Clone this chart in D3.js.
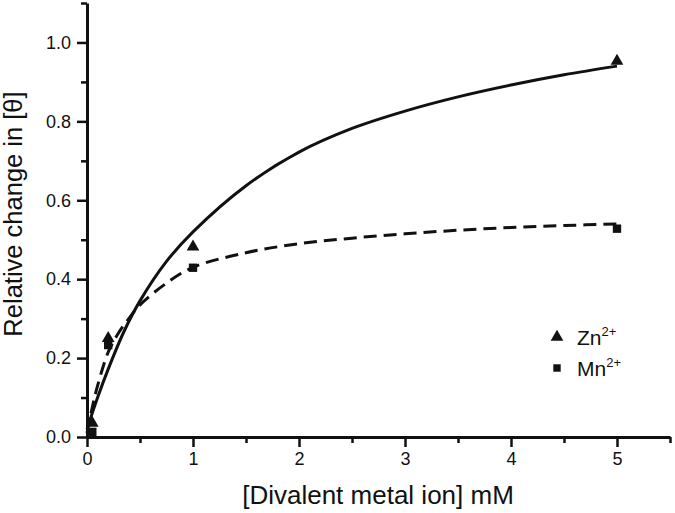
<!DOCTYPE html>
<html><head><meta charset="utf-8">
<script src="https://cdn.jsdelivr.net/npm/d3@7"></script>
<style>body{margin:0;background:#fff}svg{display:block}text{font-family:"Liberation Sans",Arial,sans-serif;fill:#111}</style>
</head><body><svg id="c" width="675" height="513"></svg>
<script>
// Measured data points
const znX = [0.05, 0.2, 1, 5];
const znY = [0.035, 0.25, 0.482, 0.953];
const mnX = [0.05, 0.2, 1, 5];
const mnY = [0.013, 0.233, 0.429, 0.528];
// Fitted curves
const fitZnX = [0, 0.1, 0.2, 0.35, 0.5, 0.75, 1, 1.5, 2, 2.5, 3, 3.5, 4, 4.5, 5];
const fitZnY = [0.02, 0.1, 0.172, 0.268, 0.345, 0.445, 0.52, 0.637, 0.722, 0.782, 0.826, 0.862, 0.892, 0.918, 0.94];
const fitMnX = [0, 0.05, 0.1, 0.2, 0.3, 0.4, 0.5, 0.75, 1, 1.5, 2, 2.5, 3, 3.5, 4, 4.5, 5];
const fitMnY = [0.01, 0.075, 0.13, 0.215, 0.265, 0.302, 0.335, 0.39, 0.43, 0.467, 0.49, 0.504, 0.515, 0.524, 0.531, 0.536, 0.54];
const xTicks = [0, 1, 2, 3, 4, 5];
const yTicks = [0.0, 0.2, 0.4, 0.6, 0.8, 1.0];
const legendLabels = ["Zn", "Mn"];

const svg = d3.select("#c");
const x = d3.scaleLinear().domain([0, 5.5]).range([87, 670]);
const y = d3.scaleLinear().domain([0, 1.1]).range([437, 3]);

function styleAxis(g){
  g.select(".domain").attr("stroke","#111").attr("stroke-width",3);
  g.selectAll(".tick line").attr("stroke","#111").attr("stroke-width",2.5);
  g.selectAll(".tick text").attr("font-size",18).attr("fill","#111").attr("font-family","Liberation Sans, Arial, sans-serif");
}
// minor ticks
const gxm = svg.append("g").attr("transform","translate(0,437)")
  .call(d3.axisBottom(x).tickValues(d3.range(0.5,5.6,1)).tickSize(6).tickFormat(""));
styleAxis(gxm); gxm.select(".domain").remove();
const gym = svg.append("g").attr("transform","translate(87,0)")
  .call(d3.axisLeft(y).tickValues(d3.range(0.1,1.11,0.2)).tickSize(6).tickFormat(""));
styleAxis(gym); gym.select(".domain").remove();

const gx = svg.append("g").attr("transform","translate(0,437)")
  .call(d3.axisBottom(x).tickValues(xTicks).tickSize(10).tickSizeOuter(0).tickPadding(5).tickFormat(d3.format("d")));
styleAxis(gx);
const gy = svg.append("g").attr("transform","translate(87,0)")
  .call(d3.axisLeft(y).tickValues(yTicks).tickSize(10).tickSizeOuter(0).tickPadding(6).tickFormat(d3.format(".1f")));
styleAxis(gy);

// axis labels
svg.append("text").attr("x",378).attr("y",504).attr("text-anchor","middle").attr("font-size",26)
  .text("[Divalent metal ion] mM");
svg.append("text").attr("transform","translate(22,214) rotate(-90)").attr("text-anchor","middle").attr("font-size",25.5)
  .text("Relative change in [θ]");

const line = d3.line().x(d=>x(d[0])).y(d=>y(d[1])).curve(d3.curveCatmullRom.alpha(0.5));
svg.append("path").datum(d3.zip(fitZnX, fitZnY)).attr("d", line)
  .attr("fill","none").attr("stroke","#111").attr("stroke-width",3);
svg.append("path").datum(d3.zip(fitMnX, fitMnY)).attr("d", line)
  .attr("fill","none").attr("stroke","#111").attr("stroke-width",3).attr("stroke-dasharray","13,7");

const tri = d3.symbol().type(d3.symbolTriangle).size(70);
const sq = d3.symbol().type(d3.symbolSquare).size(70);
svg.append("g").selectAll("path").data(d3.zip(znX, znY)).join("path")
  .attr("d", tri).attr("transform", d=>`translate(${x(d[0])},${y(d[1])})`).attr("fill","#111");
svg.append("g").selectAll("path").data(d3.zip(mnX, mnY)).join("path")
  .attr("d", sq).attr("transform", d=>`translate(${x(d[0])},${y(d[1])})`).attr("fill","#111");

// legend
const leg = svg.append("g");
const legY = [337, 368];
legendLabels.forEach((lab,i)=>{
  leg.append("path").attr("d", d3.symbol().type(i===0?d3.symbolTriangle:d3.symbolSquare).size(i===0?70:55)())
    .attr("transform",`translate(557,${legY[i]})`).attr("fill","#111");
  const t = leg.append("text").attr("x",577).attr("y",legY[i]+8).attr("font-size",21).text(lab);
  t.append("tspan").attr("dy",-9).attr("font-size",13).text("2+");
});
</script></body></html>
